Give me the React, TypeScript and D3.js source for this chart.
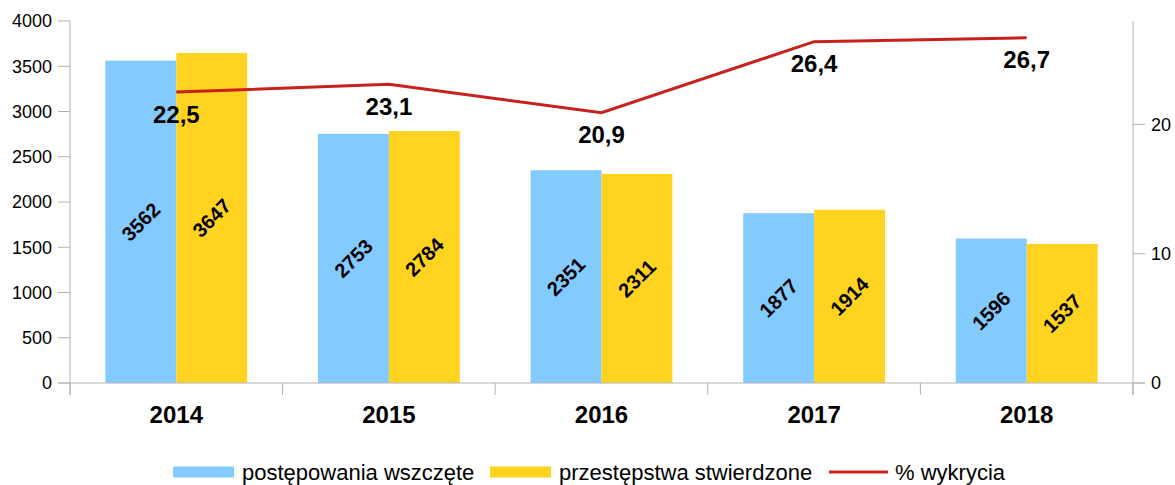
import React from "react";
import * as d3 from "d3";

const years = ["2014", "2015", "2016", "2017", "2018"];
const initiated = [3562, 2753, 2351, 1877, 1596];
const confirmed = [3647, 2784, 2311, 1914, 1537];
const detection = [22.5, 23.1, 20.9, 26.4, 26.7];
const leftTicks = [0, 500, 1000, 1500, 2000, 2500, 3000, 3500, 4000];
const rightTicks = [0, 10, 20];
const seriesNames = ["postępowania wszczęte", "przestępstwa stwierdzone", "% wykrycia"];

const W = 1175, H = 485;
const L = 70, R = 1133, T = 21, B = 383;
const BLUE = "#83caff", YELLOW = "#ffd320", RED = "#c9211e", AX = "#b3b3b3";
const FONT = "'Liberation Sans', Arial, sans-serif";

export default function App() {
  const x = d3.scaleBand().domain(years).range([L, R]).paddingInner(0.333).paddingOuter(0.1665);
  const xc = d3.scaleBand().domain(years).range([L, R]);
  const yL = d3.scaleLinear().domain([0, 4000]).range([B, T]);
  const yR = d3.scaleLinear().domain([0, 28]).range([B, T]);
  const bw = x.bandwidth() / 2;
  const line = d3.line<number>().x((_, i) => xc(years[i])! + xc.bandwidth() / 2).y((d) => yR(d));
  const LY = 472;

  return (
    <svg width={W} height={H} style={{ position: "absolute", left: 0, top: 0, fontFamily: FONT }}>
      <rect width={W} height={H} fill="#fff" />
      {years.map((yr, i) => {
        const x0 = x(yr)!;
        const bars = [
          { v: initiated[i], c: BLUE, xx: x0 },
          { v: confirmed[i], c: YELLOW, xx: x0 + bw },
        ];
        return (
          <g key={yr}>
            {bars.map((b, j) => (
              <rect key={j} x={b.xx} y={yL(b.v)} width={bw} height={B - yL(b.v)} fill={b.c} />
            ))}
          </g>
        );
      })}
      {/* axes */}
      <line x1={L} x2={L} y1={T} y2={B + 12} stroke={AX} strokeWidth={1} />
      <line x1={R} x2={R} y1={T} y2={B + 12} stroke={AX} strokeWidth={1} />
      <line x1={L - 12} x2={R + 12} y1={B} y2={B} stroke={AX} strokeWidth={1} />
      {leftTicks.map((t) => (
        <g key={t}>
          <line x1={L - 12} x2={L} y1={yL(t)} y2={yL(t)} stroke={AX} />
          <text x={L - 18} y={yL(t)} dy="0.35em" textAnchor="end" fontSize={18} fill="#000">{t}</text>
        </g>
      ))}
      {rightTicks.map((t) => (
        <g key={t}>
          <line x1={R} x2={R + 12} y1={yR(t)} y2={yR(t)} stroke={AX} />
          <text x={R + 18} y={yR(t)} dy="0.35em" textAnchor="start" fontSize={18} fill="#000">{t}</text>
        </g>
      ))}
      {years.map((yr, i) => (
        <g key={"c" + yr}>
          <line x1={xc(yr)!} x2={xc(yr)!} y1={B} y2={B + 12} stroke={AX} />
          {i === years.length - 1 && (
            <line x1={R} x2={R} y1={B} y2={B + 12} stroke={AX} />
          )}
          <text x={xc(yr)! + xc.bandwidth() / 2} y={415} dy="0.35em" textAnchor="middle" fontSize={24} fontWeight="bold" fill="#000">{yr}</text>
        </g>
      ))}
      {/* bar labels */}
      {years.map((yr, i) => {
        const x0 = x(yr)!;
        return [initiated[i], confirmed[i]].map((v, j) => {
          const cx = x0 + bw * j + bw / 2;
          const cy = (yL(v) + B) / 2;
          return (
            <text key={yr + j} transform={`translate(${cx},${cy}) rotate(-45)`} textAnchor="middle" dy="0.35em" fontSize={20} fontWeight="bold" fill="#000">{v}</text>
          );
        });
      })}
      <path d={line(detection)!} fill="none" stroke={RED} strokeWidth={3} />
      {detection.map((v, i) => (
        <text key={"d" + i} x={xc(years[i])! + xc.bandwidth() / 2} y={yR(v) + 22} dy="0.35em" textAnchor="middle" fontSize={24} fontWeight="bold" fill="#000">{String(v).replace(".", ",")}</text>
      ))}
      {/* legend */}
      <rect x={173} y={LY - 5.5} width={61} height={11} fill={BLUE} />
      <text x={242} y={LY} dy="0.35em" fontSize={22} fill="#000">{seriesNames[0]}</text>
      <rect x={490} y={LY - 5.5} width={61} height={11} fill={YELLOW} />
      <text x={559} y={LY} dy="0.35em" fontSize={22} fill="#000">{seriesNames[1]}</text>
      <line x1={829} x2={888} y1={LY} y2={LY} stroke={RED} strokeWidth={3} />
      <text x={895} y={LY} dy="0.35em" fontSize={22} fill="#000">{seriesNames[2]}</text>
    </svg>
  );
}
